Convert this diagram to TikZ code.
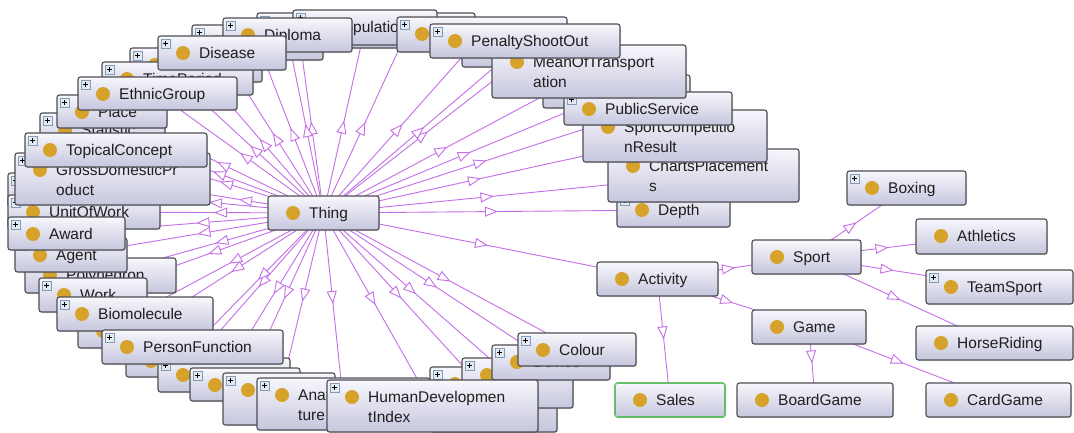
\documentclass[tikz,border=0pt]{standalone}
\usepackage{fontspec}
\setmainfont{Liberation Sans}
\usetikzlibrary{arrows.meta,decorations.markings,shadows}

\definecolor{edgec}{RGB}{196,110,232}
\definecolor{gold}{RGB}{214,162,42}
\definecolor{boxtop}{RGB}{247,247,252}
\definecolor{boxbot}{RGB}{198,198,222}
\definecolor{boxline}{RGB}{78,78,84}
\definecolor{plusline}{RGB}{130,155,185}
\definecolor{plusfill}{RGB}{228,234,242}
\definecolor{selgreen}{RGB}{90,220,90}

\pgfdeclarelayer{canvas}
\pgfdeclarelayer{background}
\pgfsetlayers{canvas,background,main}

\tikzset{
  obox/.style={rectangle, rounded corners=2.5pt, draw=boxline, line width=1.1pt,
    top color=boxtop, bottom color=boxbot, inner sep=0pt, outer sep=0pt,
    anchor=north west,
    drop shadow={shadow xshift=1pt, shadow yshift=-1pt, opacity=0.25}},
  lbl/.style={font=\fontsize{15.5}{18}\selectfont, text=black!88, inner sep=0pt,
    anchor=base west},
  subarc/.style={draw=edgec, line width=0.9pt, postaction={decorate},
    decoration={markings, mark=at position 0.5 with
      {\arrow{Triangle[open, fill=white, length=13pt, width=10pt]}}}},
}

% class box: name, x1, y1, x2, y2, first line, second line, expand marker (0/1)
\newcommand{\onto}[8]{%
  \node[obox, minimum width={(#4)-(#2)}, minimum height={(#5)-(#3)}] (#1) at (#2,#3) {};
  \fill[gold] (#2+25,#3+17) circle (7pt);
  \ifnum#8=1
    \draw[plusline, fill=plusfill, line width=0.6pt] (#2+3,#3+3) rectangle (#2+12,#3+12);
    \draw[black, line width=0.8pt] (#2+5,#3+7.5) -- (#2+10,#3+7.5) (#2+7.5,#3+5) -- (#2+7.5,#3+10);
  \fi
  \if\relax\detokenize{#6}\relax\else
    \node[lbl] (#1-a) at (#2+41,#3+22.5) {#6};
  \fi
  \if\relax\detokenize{#7}\relax\else
    \node[lbl] (#1-b) at (#2+41,#3+42.5) {#7};
  \fi
}

\begin{document}
\begin{tikzpicture}[x=1pt,y=-1pt]
\begin{pgfonlayer}{canvas}
\fill[white] (0,0) rectangle (1074,432);
\end{pgfonlayer}
\useasboundingbox (0,0) rectangle (1074,432);

% ---- upper ring, right part
\onto{boxb}{340}{13}{475}{48}{}{}{0}
\onto{boxa}{257}{13}{340}{47}{}{}{1}
\onto{population}{293}{10}{437}{45}{Population}{}{1}
\onto{boxc}{397}{17}{567}{52}{}{}{1}
\onto{boxd}{462}{35}{600}{67}{}{}{0}
\onto{depth}{617}{193}{730}{227}{Depth}{}{1}
\onto{charts}{608}{149}{799}{202}{ChartsPlacement}{s}{1}
\onto{sportres}{583}{110}{767}{162}{SportCompetitio}{nResult}{1}
\onto{boxn}{543}{75}{690}{108}{}{}{1}
\onto{publicservice}{564}{92}{732}{125}{PublicService}{}{1}
\onto{transport}{492}{45}{686}{98}{MeanOfTransport}{ation}{0}
\onto{penalty}{430}{24}{620}{58}{PenaltyShootOut}{}{1}

% ---- upper ring, left part
\onto{boxe}{192}{25}{323}{60}{}{}{1}
\onto{diploma}{223}{18}{352}{52}{Diploma}{}{1}
\onto{boxf}{130}{48}{262}{82}{}{}{1}
\onto{timeperiod}{102}{62}{253}{95}{TimePeriod}{}{1}
\onto{disease}{158}{36}{286}{70}{Disease}{}{1}
\onto{statistic}{40}{113}{165}{147}{Statistic}{}{1}
\onto{place}{57}{95}{167}{128}{Place}{}{1}
\onto{ethnic}{78}{77}{237}{110}{EthnicGroup}{}{1}
\onto{boxg}{8}{173}{150}{207}{}{}{1}
\onto{unitofwork}{8}{195}{160}{229}{UnitOfWork}{}{1}
\onto{gdp}{15}{153}{210}{205}{GrossDomesticPr}{oduct}{1}
\onto{topical}{25}{133}{207}{167}{TopicalConcept}{}{1}

% ---- lower ring
\onto{polyhedron}{25}{258}{176}{293}{Polyhedron}{}{1}
\onto{agent}{15}{238}{127}{272}{Agent}{}{1}
\onto{award}{8}{217}{125}{250}{Award}{}{1}
\onto{work}{39}{278}{147}{312}{Work}{}{1}
\onto{boxh}{78}{314}{200}{348}{}{}{1}
\onto{biomolecule}{57}{297}{213}{331}{Biomolecule}{}{1}
\onto{boxi}{126}{344}{262}{377}{}{}{1}
\onto{species}{158}{358}{290}{392}{Species}{}{1}
\onto{personfunction}{102}{330}{283}{364}{PersonFunction}{}{1}
\onto{boxj}{190}{368}{300}{401}{}{}{1}
\onto{boxk}{223}{373}{335}{425}{}{}{1}
\onto{anatomical}{257}{378}{430}{430}{AnatomicalStruc}{ture}{1}
\onto{boxl}{430}{367}{557}{432}{}{}{1}
\onto{boxm}{462}{358}{573}{408}{}{}{1}
\onto{device}{492}{345}{610}{380}{Device}{}{1}
\onto{hdi}{327}{380}{538}{432}{HumanDevelopmen}{tIndex}{1}
\onto{colour}{518}{333}{636}{366}{Colour}{}{1}

% ---- root and the activity branch
\onto{thing}{268}{196}{379}{230}{Thing}{}{0}
\onto{activity}{597}{262}{718}{296}{Activity}{}{0}
\onto{sales}{615}{383}{725}{417}{Sales}{}{0}
\draw[selgreen, line width=1.3pt, rounded corners=2.5pt] (sales.north west) rectangle (sales.south east);
\onto{sport}{752}{240}{861}{274}{Sport}{}{0}
\onto{game}{752}{310}{866}{344}{Game}{}{0}
\onto{boardgame}{737}{383}{893}{417}{BoardGame}{}{0}
\onto{cardgame}{926}{383}{1071}{417}{CardGame}{}{0}
\onto{boxing}{847}{171}{966}{205}{Boxing}{}{1}
\onto{athletics}{916}{219}{1047}{254}{Athletics}{}{0}
\onto{teamsport}{926}{270}{1073}{304}{TeamSport}{}{1}
\onto{horseriding}{916}{326}{1073}{360}{HorseRiding}{}{0}

% ---- subclass arcs, kept under the boxes
\begin{pgfonlayer}{background}
\foreach \n in {boxb,boxa,population,boxc,boxd,depth,charts,sportres,boxn,
  publicservice,transport,penalty,boxe,diploma,boxf,timeperiod,disease,
  statistic,place,ethnic,boxg,unitofwork,gdp,topical,polyhedron,agent,award,
  work,boxh,biomolecule,boxi,species,personfunction,boxj,boxk,anatomical,
  boxl,boxm,device,hdi,colour,activity}
  \draw[subarc] (thing) -- (\n);
\foreach \a/\b in {activity/sales,activity/sport,activity/game,
  sport/boxing,sport/athletics,sport/teamsport,sport/horseriding,
  game/boardgame,game/cardgame}
  \draw[subarc] (\a) -- (\b);
\end{pgfonlayer}
\end{tikzpicture}
\end{document}
